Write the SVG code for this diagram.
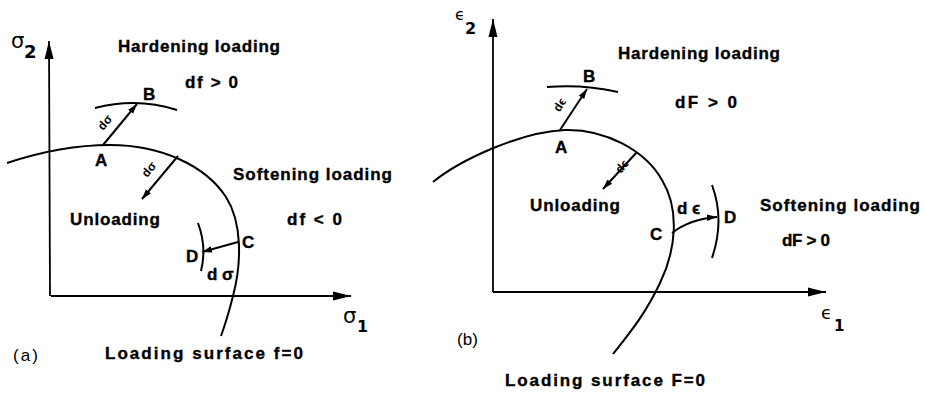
<svg xmlns="http://www.w3.org/2000/svg" width="925" height="395" viewBox="0 0 925 395">
<style>
.ln{fill:none;stroke:#000;stroke-width:2}
.ax{fill:none;stroke:#000;stroke-width:1.8}
.t{font-family:"Liberation Sans",Arial,sans-serif;font-weight:bold;font-size:17px;fill:#000;stroke:#000;stroke-width:0.35}
.s{font-family:"Liberation Sans",Arial,sans-serif;font-weight:bold;font-size:12px;fill:#000}
.g{font-family:"DejaVu Sans","Liberation Sans",sans-serif;fill:#000}
.p{font-family:"Liberation Sans",Arial,sans-serif;font-size:17px;fill:#000}
</style>
<defs>
<marker id="ah" markerUnits="userSpaceOnUse" markerWidth="19" markerHeight="10" refX="18" refY="5" orient="auto">
<path d="M0,0.5 L18,5 L0,9.5 z" fill="#000"/>
</marker>
<marker id="sh" markerUnits="userSpaceOnUse" markerWidth="11" markerHeight="8" refX="10" refY="4" orient="auto">
<path d="M0,0.8 L10,4 L0,7.2 z" fill="#000"/>
</marker>
</defs>

<g id="panel-a">
<g id="axes-a">
<line class="ax" x1="50" y1="296" x2="49" y2="41" marker-end="url(#ah)"/>
<line class="ax" x1="51" y1="296" x2="351" y2="296" marker-end="url(#ah)"/>
<text class="g" x="11" y="48" font-size="21">σ</text>
<text class="g" x="24" y="58" font-size="18" font-weight="bold">2</text>
<text class="g" x="343" y="323" font-size="21">σ</text>
<text class="g" x="357" y="332" font-size="16" font-weight="bold">1</text>
</g>
<g id="surface-a">
<path class="ln" d="M7,163 C40,152 75,145 110,145 C160,145 205,165 226,197 C242,222 242,262 233,296 C229,312 225,325 221,336"/>
<path class="ln" d="M95,108 Q137,97 177,110"/>
<path class="ln" d="M198,223 Q207,247 201,271"/>
</g>
<g id="connectors-a">
<line class="ln" x1="103" y1="145" x2="137" y2="104" marker-end="url(#sh)"/>
<line class="ln" x1="178" y1="156" x2="142" y2="199" marker-end="url(#sh)"/>
<path class="ln" d="M238,242 Q220,247 202,252" marker-end="url(#sh)"/>
</g>
<g id="labels-a">
<text class="t" x="118" y="52" textLength="162" lengthAdjust="spacing">Hardening loading</text>
<text class="t" x="185" y="88" textLength="53" lengthAdjust="spacing">df &gt; 0</text>
<text class="t" x="143" y="100">B</text>
<text class="t" x="95" y="166">A</text>
<text class="t" x="233" y="180" textLength="159" lengthAdjust="spacing">Softening loading</text>
<text class="t" x="70" y="225" textLength="90" lengthAdjust="spacing">Unloading</text>
<text class="t" x="287" y="225" textLength="55" lengthAdjust="spacing">df &lt; 0</text>
<text class="t" x="242" y="248">C</text>
<text class="t" x="186" y="262">D</text>
<text class="t" x="207" y="280" font-size="13">d σ</text>
<text class="s" transform="translate(108,125) rotate(-50)" text-anchor="middle">dσ</text>
<text class="s" transform="translate(152,172) rotate(-50)" text-anchor="middle">dσ</text>
<text class="p" x="13" y="361" textLength="25" lengthAdjust="spacing">(a)</text>
<text class="t" x="105" y="359" textLength="198" lengthAdjust="spacing">Loading surface f=0</text>
</g>
</g>

<g id="panel-b">
<g id="axes-b">
<line class="ax" x1="493" y1="292" x2="493" y2="19" marker-end="url(#ah)"/>
<line class="ax" x1="493" y1="292" x2="826" y2="292" marker-end="url(#ah)"/>
<text class="g" x="455" y="20" font-size="16">ϵ</text>
<text class="g" x="465" y="34" font-size="16" font-weight="bold">2</text>
<text class="g" x="821" y="319" font-size="18">ϵ</text>
<text class="g" x="834" y="331" font-size="15" font-weight="bold">1</text>
</g>
<g id="surface-b">
<path class="ln" d="M433,182 C460,160 520,132 565,130 C605,129 645,150 662,180 C680,210 676,250 660,283 C645,315 628,335 613,354"/>
<path class="ln" d="M547,87 Q583,84 618,92"/>
<path class="ln" d="M712,185 Q725,220 712,258"/>
</g>
<g id="connectors-b">
<line class="ln" x1="560" y1="130" x2="587" y2="89" marker-end="url(#sh)"/>
<line class="ln" x1="637" y1="152" x2="603" y2="189" marker-end="url(#sh)"/>
<path class="ln" d="M672,233 Q690,219 717,217" marker-end="url(#sh)"/>
</g>
<g id="labels-b">
<text class="t" x="618" y="59" textLength="162" lengthAdjust="spacing">Hardening loading</text>
<text class="t" x="583" y="82">B</text>
<text class="t" x="675" y="108" textLength="62" lengthAdjust="spacing">dF &gt; 0</text>
<text class="t" x="555" y="153">A</text>
<text class="t" x="530" y="211" textLength="90" lengthAdjust="spacing">Unloading</text>
<text class="t" x="760" y="211" textLength="160" lengthAdjust="spacing">Softening loading</text>
<text class="t" x="782" y="246" textLength="48" lengthAdjust="spacing">dF &gt; 0</text>
<text class="t" x="724" y="223">D</text>
<text class="t" x="650" y="240">C</text>
<text class="t" x="677" y="214" font-size="12">d ϵ</text>
<text class="s" transform="translate(563,107) rotate(-58)" text-anchor="middle">dϵ</text>
<text class="s" transform="translate(625,169) rotate(-50)" text-anchor="middle">dϵ</text>
<text class="p" x="457" y="345" textLength="21" lengthAdjust="spacing">(b)</text>
<text class="t" x="505" y="386" textLength="200" lengthAdjust="spacing">Loading surface F=0</text>
</g>
</g>
</svg>
